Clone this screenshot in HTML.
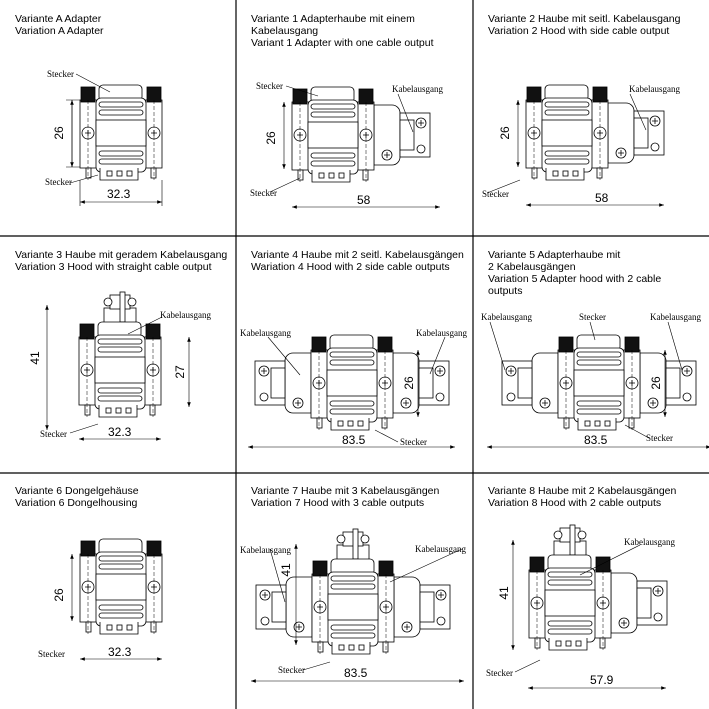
<!DOCTYPE html>
<html><head><meta charset="utf-8"><style>
body{margin:0;background:#fff}
svg{display:block}
.t{font-family:"Liberation Sans",sans-serif;font-size:10.5px;fill:#000}
.l{font-family:"Liberation Serif",serif;font-size:9px;fill:#000}
.d{font-family:"Liberation Sans",sans-serif;font-size:12px;fill:#000}
</style></head><body>
<svg width="709" height="709" viewBox="0 0 709 709" xmlns="http://www.w3.org/2000/svg">
<defs>
<g id="c" fill="#fff" stroke="#000" stroke-width="0.8">
 <rect x="-22" y="-48" width="43" height="16" rx="4"/>
 <rect x="-41" y="-33" width="82" height="68"/>
 <rect x="-40" y="-46" width="14" height="15" fill="#111"/>
 <rect x="26" y="-46" width="14" height="15" fill="#111"/>
 <rect x="-25" y="-35" width="50" height="74" rx="5"/>
 <rect x="-25" y="-13" width="50" height="26"/>
 <rect x="-22" y="-31" width="44" height="5" rx="2.5"/>
 <rect x="-22" y="-23" width="44" height="5" rx="2.5"/>
 <rect x="-22" y="18" width="44" height="5" rx="2.5"/>
 <rect x="-22" y="26" width="44" height="5" rx="2.5"/>
 <circle cx="-33" cy="0" r="6"/><circle cx="33" cy="0" r="6"/>
 <path d="M-36 0h6M-33 -3v6M30 0h6M33 -3v6"/>
 <rect x="-35" y="35" width="5" height="10"/><rect x="30" y="35" width="5" height="10"/>
 <path d="M-21 35v12h38v-12" />
 <rect x="-14" y="38" width="5" height="5"/><rect x="-4" y="38" width="5" height="5"/><rect x="6" y="38" width="5" height="5"/>
 <path d="M-33 -33v80M33 -33v80" stroke-dasharray="4 2" stroke-width="0.5"/>
</g>
<g id="s" fill="#fff" stroke="#000" stroke-width="0.8">
 <path d="M41 -30h18a8 8 0 0 1 8 8v44a8 8 0 0 1 -8 8h-18z"/>
 <circle cx="54" cy="20" r="5"/><path d="M51 20h6M54 17v6"/>
 <rect x="67" y="-22" width="30" height="44"/>
 <rect x="67" y="-15" width="14" height="30"/>
 <circle cx="88" cy="-12" r="5"/><circle cx="88" cy="14" r="4"/>
 <path d="M85 -12h6M88 -15v6"/>
</g>
<g id="tp" fill="#fff" stroke="#000" stroke-width="0.8">
 <rect x="-16" y="-62" width="32" height="30"/>
 <rect x="-10" y="-75" width="20" height="14"/>
 <rect x="0" y="-78" width="5" height="30"/>
 <circle cx="-12" cy="-68" r="4"/><circle cx="12" cy="-68" r="4"/>
</g>
<marker id="a" viewBox="0 0 8 6" refX="8" refY="3" markerWidth="8" markerHeight="6" orient="auto-start-reverse"><path d="M0 0L8 3L0 6z"/></marker>
</defs>
<g stroke="#000" stroke-width="1.2">
<path d="M236 0V709M473 0V709M0 236H709M0 473H709"/>
</g>
<g class="t">
<text x="15" y="22">Variante A Adapter</text><text x="15" y="34">Variation A Adapter</text>
<text x="251" y="22">Variante 1 Adapterhaube mit einem</text><text x="251" y="34">Kabelausgang</text><text x="251" y="46">Variant 1 Adapter with one cable output</text>
<text x="488" y="22">Variante 2 Haube mit seitl. Kabelausgang</text><text x="488" y="34">Variation 2 Hood with side cable output</text>
<text x="15" y="258">Variante 3 Haube mit geradem Kabelausgang</text><text x="15" y="270">Variation 3 Hood with straight cable output</text>
<text x="251" y="258">Variante 4 Haube mit 2 seitl. Kabelausgängen</text><text x="251" y="270">Wariation 4 Hood with 2 side cable outputs</text>
<text x="488" y="258">Variante 5 Adapterhaube mit</text><text x="488" y="270">2 Kabelausgängen</text><text x="488" y="282">Variation 5 Adapter hood with 2 cable</text><text x="488" y="294">outputs</text>
<text x="15" y="494">Variante 6 Dongelgehäuse</text><text x="15" y="506">Variation 6 Dongelhousing</text>
<text x="251" y="494">Variante 7 Haube mit 3 Kabelausgängen</text><text x="251" y="506">Variation 7 Hood with 3 cable outputs</text>
<text x="488" y="494">Variante 8 Haube mit 2 Kabelausgängen</text><text x="488" y="506">Variation 8 Hood with 2 cable outputs</text>
</g>
<use href="#c" x="121" y="133"/>
<use href="#s" x="333" y="135"/><use href="#c" x="333" y="135"/>
<use href="#s" x="567" y="133"/><use href="#c" x="567" y="133"/>
<use href="#tp" x="120" y="370"/><use href="#c" x="120" y="370"/>
<use href="#s" x="352" y="383"/><g transform="translate(352 383) scale(-1 1)"><use href="#s"/></g><use href="#c" x="352" y="383"/>
<use href="#s" x="599" y="383"/><g transform="translate(599 383) scale(-1 1)"><use href="#s"/></g><use href="#c" x="599" y="383"/>
<use href="#c" x="121" y="587"/>
<use href="#tp" x="353" y="607"/><use href="#s" x="353" y="607"/><g transform="translate(353 607) scale(-1 1)"><use href="#s"/></g><use href="#c" x="353" y="607"/>
<use href="#tp" x="570" y="603"/><use href="#s" x="570" y="603"/><use href="#c" x="570" y="603"/>
<g stroke="#000" stroke-width="0.6" fill="none">
<path d="M72 100V167M66 100h14M66 167h14M80 180V206M162 180V206" />
<path d="M80 202H162" marker-start="url(#a)" marker-end="url(#a)"/>
<path d="M72 100V167" marker-start="url(#a)" marker-end="url(#a)"/>
<path d="M284 102V169" marker-start="url(#a)" marker-end="url(#a)"/>
<path d="M292 207H440" marker-start="url(#a)" marker-end="url(#a)"/>
<path d="M518 100V167" marker-start="url(#a)" marker-end="url(#a)"/>
<path d="M526 205H664" marker-start="url(#a)" marker-end="url(#a)"/>
<path d="M47 305V430" marker-start="url(#a)" marker-end="url(#a)"/>
<path d="M189 337V407" marker-start="url(#a)" marker-end="url(#a)"/>
<path d="M79 439H161" marker-start="url(#a)" marker-end="url(#a)"/>
<path d="M418 350V417" marker-start="url(#a)" marker-end="url(#a)"/>
<path d="M248 447H455" marker-start="url(#a)" marker-end="url(#a)"/>
<path d="M665 350V417" marker-start="url(#a)" marker-end="url(#a)"/>
<path d="M487 447H711" marker-start="url(#a)" marker-end="url(#a)"/>
<path d="M72 554V621" marker-start="url(#a)" marker-end="url(#a)"/>
<path d="M80 659H162" marker-start="url(#a)" marker-end="url(#a)"/>
<path d="M296 544V645" marker-start="url(#a)" marker-end="url(#a)"/>
<path d="M251 681H464" marker-start="url(#a)" marker-end="url(#a)"/>
<path d="M513 540V650" marker-start="url(#a)" marker-end="url(#a)"/>
<path d="M528 688H666" marker-start="url(#a)" marker-end="url(#a)"/>
<path d="M76 74L110 92M70 183L98 175M286 86L318 96M270 192L300 178M398 94L413 132M630 94L646 130M487 193L520 180M162 317L128 334M70 433L98 424M268 337L300 375M445 337L430 374M398 442L375 430M490 322L505 370M590 322L595 340M668 322L682 370M649 438L625 425M270 549L285 602M462 549L390 582M303 670L330 662M640 545L580 575M515 672L540 660"/>
</g>
<g class="l">
<text x="47" y="77">Stecker</text><text x="45" y="185">Stecker</text>
<text x="256" y="89">Stecker</text><text x="250" y="196">Stecker</text><text x="392" y="92">Kabelausgang</text>
<text x="629" y="92">Kabelausgang</text><text x="482" y="197">Stecker</text>
<text x="160" y="318">Kabelausgang</text><text x="40" y="437">Stecker</text>
<text x="240" y="336">Kabelausgang</text><text x="416" y="336">Kabelausgang</text><text x="400" y="445">Stecker</text>
<text x="481" y="320">Kabelausgang</text><text x="579" y="320">Stecker</text><text x="650" y="320">Kabelausgang</text><text x="646" y="441">Stecker</text>
<text x="38" y="657">Stecker</text>
<text x="240" y="553">Kabelausgang</text><text x="415" y="552">Kabelausgang</text><text x="278" y="673">Stecker</text>
<text x="624" y="545">Kabelausgang</text><text x="486" y="676">Stecker</text>
</g>
<g class="d">
<text x="107" y="198">32.3</text><text x="357" y="204">58</text><text x="595" y="202">58</text>
<text x="108" y="436">32.3</text><text x="342" y="444">83.5</text><text x="584" y="444">83.5</text>
<text x="108" y="656">32.3</text><text x="344" y="677">83.5</text><text x="590" y="684">57.9</text>
<text transform="translate(63 133) rotate(-90)" text-anchor="middle">26</text>
<text transform="translate(275 138) rotate(-90)" text-anchor="middle">26</text>
<text transform="translate(509 133) rotate(-90)" text-anchor="middle">26</text>
<text transform="translate(39 358) rotate(-90)" text-anchor="middle">41</text>
<text transform="translate(184 372) rotate(-90)" text-anchor="middle">27</text>
<text transform="translate(413 383) rotate(-90)" text-anchor="middle">26</text>
<text transform="translate(660 383) rotate(-90)" text-anchor="middle">26</text>
<text transform="translate(63 595) rotate(-90)" text-anchor="middle">26</text>
<text transform="translate(290 570) rotate(-90)" text-anchor="middle">41</text>
<text transform="translate(508 593) rotate(-90)" text-anchor="middle">41</text>
</g>
</svg>
</body></html>
